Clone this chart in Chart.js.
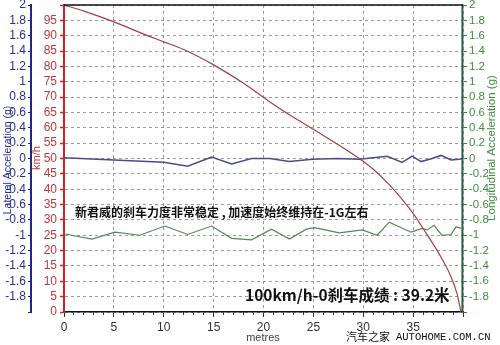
<!DOCTYPE html>
<html>
<head>
<meta charset="utf-8">
<script src="https://cdn.jsdelivr.net/npm/chart.js@4/dist/chart.umd.min.js"></script>
<style>
  html, body { margin: 0; padding: 0; background: #fff; }
  #wrap { width: 500px; height: 345px; }
</style>
</head>
<body>
<div id="wrap"><canvas id="brakeChart" width="500" height="345"></canvas></div>
<script>
'use strict';

// 车速曲线 (km/h) 与距离 (m)
const distSpeed = [0, 2, 5, 8, 10, 12, 15, 18, 20.4, 22, 25, 27.5, 29.6, 31, 32.6, 34.8, 36.3, 37.6, 38.8, 39.4, 39.8];
const speedKmh  = [100, 98, 94.5, 90.5, 88, 85.5, 80.5, 74.5, 69, 65.5, 59.5, 54.5, 50, 46.5, 41.5, 33, 25.7, 19, 11.5, 6, 0];

// 横向加速度 (g)
const distLat = [0, 5, 10, 12.4, 14.8, 16.8, 18.8, 20.6, 22.6, 24.9, 27.4, 29.6, 32.4, 33.9, 34.9, 35.8, 36.9, 37.8, 38.8, 39.6, 40];
const latG    = [0.01, -0.02, -0.05, -0.1, 0.02, -0.07, 0, 0, -0.04, -0.01, 0, -0.01, 0.03, -0.05, 0.03, -0.04, 0, 0.04, -0.02, -0.01, 0];

// 纵向加速度 (g)
const distLong = [0, 2.8, 5.1, 7.6, 10.1, 12.4, 14.8, 16.8, 18.8, 20.8, 22.6, 24.3, 25.1, 27.6, 29.9, 31.4, 32.6, 34.8, 35.9, 36.4, 37.1, 37.9, 38.8, 39.3, 39.8];
const longG    = [-0.98, -1.05, -0.96, -1.0, -0.88, -0.99, -0.88, -1.04, -1.06, -0.92, -1.05, -0.92, -0.9, -0.97, -0.93, -1.0, -0.83, -0.96, -0.91, -0.93, -0.87, -1.0, -0.99, -0.89, -0.91];

// 刻度
const xTickStep = 5;
const kmhTickStep = 5;
const gTickStep = 0.2;

const toPoints = (xs, ys) => xs.map((x, i) => ({ x: x, y: ys[i] }));

const FONT = 'Arial, "Liberation Sans", sans-serif';
const CJK = '"Noto Sans CJK SC", sans-serif';

const fixSize = (prop, size) => (scale) => {
    scale[prop] = size;
    scale.paddingTop = 0;
    scale.paddingBottom = 0;
    scale.paddingLeft = 0;
    scale.paddingRight = 0;
};

const fmtG = (v) => (v < -1.99 ? '' : String(Math.round(v * 10) / 10));

// 标题、注释、水印
const overlayPlugin = {
    id: 'overlay',
    afterDraw(chart) {
        const ctx = chart.ctx;
        const a = chart.chartArea;
        ctx.save();
        // 顶部与右侧边框
        ctx.lineWidth = 1.5;
        ctx.strokeStyle = '#111';
        ctx.beginPath();
        ctx.moveTo(a.left, a.top);
        ctx.lineTo(a.right, a.top);
        ctx.stroke();
        ctx.strokeStyle = '#1f2f5f';
        ctx.lineWidth = 1;
        ctx.beginPath();
        ctx.moveTo(a.right - 1, a.top);
        ctx.lineTo(a.right - 1, a.bottom);
        ctx.stroke();

        const vText = (txt, x, y, color, font) => {
            ctx.save();
            ctx.translate(x, y);
            ctx.rotate(-Math.PI / 2);
            ctx.fillStyle = color;
            ctx.font = font;
            ctx.textAlign = 'center';
            ctx.textBaseline = 'middle';
            ctx.fillText(txt, 0, 0);
            ctx.restore();
        };
        vText('Lateral Acceleration (g)', 8, 160, '#23319a', '10.5px ' + FONT);
        vText('km/h', 37, 158, '#c0393b', '11px ' + FONT);
        vText('Longitudinal Acceleration (g)', 492, 148, '#3f8f3f', '11.5px ' + FONT);

        ctx.textBaseline = 'middle';
        ctx.fillStyle = '#444';
        ctx.font = '11px ' + FONT;
        ctx.textAlign = 'center';
        ctx.fillText('metres', 263, 338);

        ctx.fillStyle = '#111';
        ctx.textAlign = 'left';
        ctx.font = 'bold 12px ' + CJK;
        ctx.fillText('新君威的刹车力度非常稳定 , 加速度始终维持在-1G左右', 75, 212);
        ctx.font = 'bold 15.5px ' + CJK;
        ctx.fillText('100km/h-0刹车成绩 : 39.2米', 245, 295);

        ctx.font = '11px ' + CJK;
        ctx.fillText('汽车之家', 346, 337);
        ctx.font = '10.5px "Liberation Mono", monospace';
        ctx.fillText('AUTOHOME.COM.CN', 396, 337);
        ctx.restore();
    }
};

new Chart(document.getElementById('brakeChart'), {
    type: 'line',
    data: {
        datasets: [
            {
                label: 'km/h',
                data: toPoints(distSpeed, speedKmh),
                yAxisID: 'yKmh',
                borderColor: '#a5403f',
                borderWidth: 1.2,
                pointRadius: 0,
                cubicInterpolationMode: 'monotone'
            },
            {
                label: 'Lateral',
                data: toPoints(distLat, latG),
                yAxisID: 'yLat',
                borderColor: '#4a4c8c',
                borderWidth: 1.5,
                pointRadius: 0,
                tension: 0
            },
            {
                label: 'Longitudinal',
                data: toPoints(distLong, longG),
                yAxisID: 'yLong',
                borderColor: '#4f8a4f',
                borderWidth: 1.2,
                pointRadius: 0,
                tension: 0
            }
        ]
    },
    options: {
        responsive: false,
        animation: false,
        layout: { padding: { top: 5, left: 0, right: 0, bottom: 0 } },
        plugins: {
            legend: { display: false },
            tooltip: { enabled: false }
        },
        scales: {
            xMinor: {
                type: 'linear',
                position: 'bottom',
                weight: -1,
                min: 0,
                max: 40,
                ticks: { stepSize: 1, display: false, autoSkip: false },
                grid: { drawOnChartArea: false, tickLength: 3, color: '#333' },
                border: { display: false },
                afterFit: fixSize('height', 0)
            },
            x: {
                type: 'linear',
                position: 'bottom',
                weight: 0,
                min: 0,
                max: 40,
                ticks: {
                    stepSize: xTickStep,
                    autoSkip: false,
                    padding: 3,
                    color: '#333',
                    font: { size: 12, family: FONT },
                    maxRotation: 0,
                    callback: (v) => (v >= 40 ? '' : v)
                },
                grid: { color: '#9a9a9a', tickLength: 5, tickColor: '#333' },
                border: { color: '#111', width: 1.5, dash: [3, 3] },
                afterFit: fixSize('height', 33)
            },
            yLat: {
                type: 'linear',
                position: 'left',
                weight: 1,
                min: -2,
                max: 2,
                ticks: {
                    stepSize: gTickStep,
                    autoSkip: false,
                    padding: 2,
                    color: '#23319a',
                    font: { size: 12, family: FONT },
                    callback: fmtG
                },
                grid: { drawOnChartArea: false, tickLength: 3, color: '#1a2a8a' },
                border: { color: '#1a2a8a', width: 2 },
                afterFit: fixSize('width', 31)
            },
            yKmh: {
                type: 'linear',
                position: 'left',
                weight: 0,
                min: 0,
                max: 100,
                ticks: {
                    stepSize: kmhTickStep,
                    autoSkip: false,
                    padding: 3,
                    color: '#c0393b',
                    font: { size: 12, family: FONT },
                    callback: (v) => (v >= 100 ? '' : v)
                },
                grid: { color: '#9a9a9a', tickLength: 4, tickColor: '#d02020', tickWidth: 1.5 },
                border: { color: '#d02020', width: 2, dash: [3, 3] },
                afterFit: fixSize('width', 33)
            },
            yLong: {
                type: 'linear',
                position: 'right',
                min: -2,
                max: 2,
                ticks: {
                    stepSize: gTickStep,
                    autoSkip: false,
                    padding: 2,
                    color: '#3f8f3f',
                    font: { size: 11.5, family: FONT },
                    callback: fmtG
                },
                grid: { drawOnChartArea: false, tickLength: 4, color: '#2f8f2f' },
                border: { color: '#2f8f2f', width: 1.5 },
                afterFit: fixSize('width', 37)
            }
        }
    },
    plugins: [overlayPlugin]
});
</script>
</body>
</html>
